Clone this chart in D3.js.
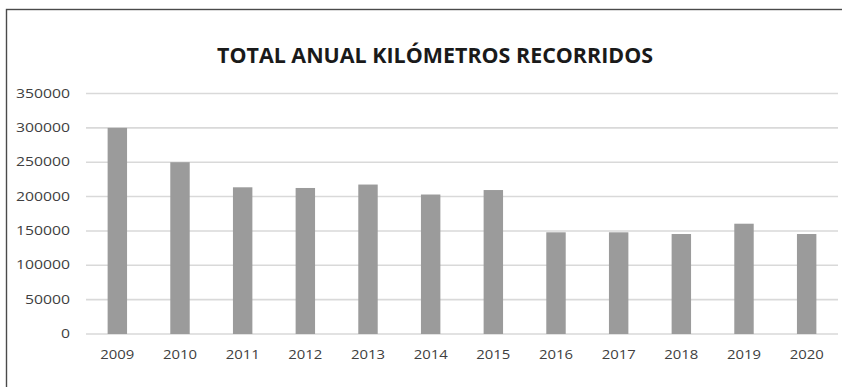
<!DOCTYPE html>
<html>
<head>
<meta charset="utf-8">
<script src="https://cdn.jsdelivr.net/npm/d3@7"></script>
<style>
  html, body { margin: 0; padding: 0; background: #ffffff; }
  svg { display: block; }
</style>
</head>
<body>
<svg id="chart" width="842" height="387"></svg>
<script>
// Annual kilometres travelled, 2009–2020
const years = ["2009", "2010", "2011", "2012", "2013", "2014", "2015", "2016", "2017", "2018", "2019", "2020"];
const kilometres = [300000, 250000, 213500, 212500, 217500, 203000, 209500, 148000, 148000, 145500, 160500, 145500];
const yTicks = [0, 50000, 100000, 150000, 200000, 250000, 300000, 350000];
const title = "TOTAL ANUAL KILÓMETROS RECORRIDOS";

const W = 842, H = 387;
const plot = { left: 86, right: 838, top: 93.5, bottom: 334 };
const font = "'Open Sans', 'Noto Sans', sans-serif";

const svg = d3.select("#chart");

// outer frame of the chart area
svg.append("rect")
  .attr("x", 6.5).attr("y", 9.5)
  .attr("width", W + 20).attr("height", H + 20)
  .attr("fill", "#ffffff")
  .attr("stroke", "#4a4a4a")
  .attr("stroke-width", 1.4);

const x = d3.scaleBand()
  .domain(years)
  .range([plot.left, plot.right])
  .paddingInner(0.69)
  .paddingOuter(0.345);

const y = d3.scaleLinear()
  .domain([0, 350000])
  .range([plot.bottom, plot.top]);

// horizontal gridlines
svg.append("g")
  .selectAll("line")
  .data(yTicks)
  .join("line")
  .attr("x1", plot.left).attr("x2", plot.right)
  .attr("y1", d => y(d)).attr("y2", d => y(d))
  .attr("stroke", "#d9d9d9")
  .attr("stroke-width", 1.6);

// y tick labels
svg.append("g")
  .selectAll("text")
  .data(yTicks)
  .join("text")
  .attr("x", 70)
  .attr("y", d => y(d))
  .attr("dy", "0.35em")
  .attr("text-anchor", "end")
  .attr("font-family", font)
  .attr("font-size", 12)
  .attr("fill", "#404040")
  .attr("textLength", d => String(d).length * 9)
  .attr("lengthAdjust", "spacingAndGlyphs")
  .text(d => d);

// bars
svg.append("g")
  .selectAll("rect")
  .data(years.map((yr, i) => ({ yr, v: kilometres[i] })))
  .join("rect")
  .attr("x", d => x(d.yr))
  .attr("width", x.bandwidth())
  .attr("y", d => y(d.v))
  .attr("height", d => y(0) - y(d.v))
  .attr("fill", "#9b9b9b");

// x category labels
svg.append("g")
  .selectAll("text")
  .data(years)
  .join("text")
  .attr("x", d => x(d) + x.bandwidth() / 2)
  .attr("y", 355)
  .attr("dy", "0.35em")
  .attr("text-anchor", "middle")
  .attr("font-family", font)
  .attr("font-size", 12)
  .attr("fill", "#404040")
  .attr("textLength", 34)
  .attr("lengthAdjust", "spacingAndGlyphs")
  .text(d => d);

// title
svg.append("text")
  .attr("x", 435)
  .attr("y", 56)
  .attr("dy", "0.35em")
  .attr("text-anchor", "middle")
  .attr("font-family", font)
  .attr("font-weight", "bold")
  .attr("font-size", 21)
  .attr("fill", "#1a1a1a")
  .attr("textLength", 436)
  .attr("lengthAdjust", "spacingAndGlyphs")
  .text(title);
</script>
</body>
</html>
